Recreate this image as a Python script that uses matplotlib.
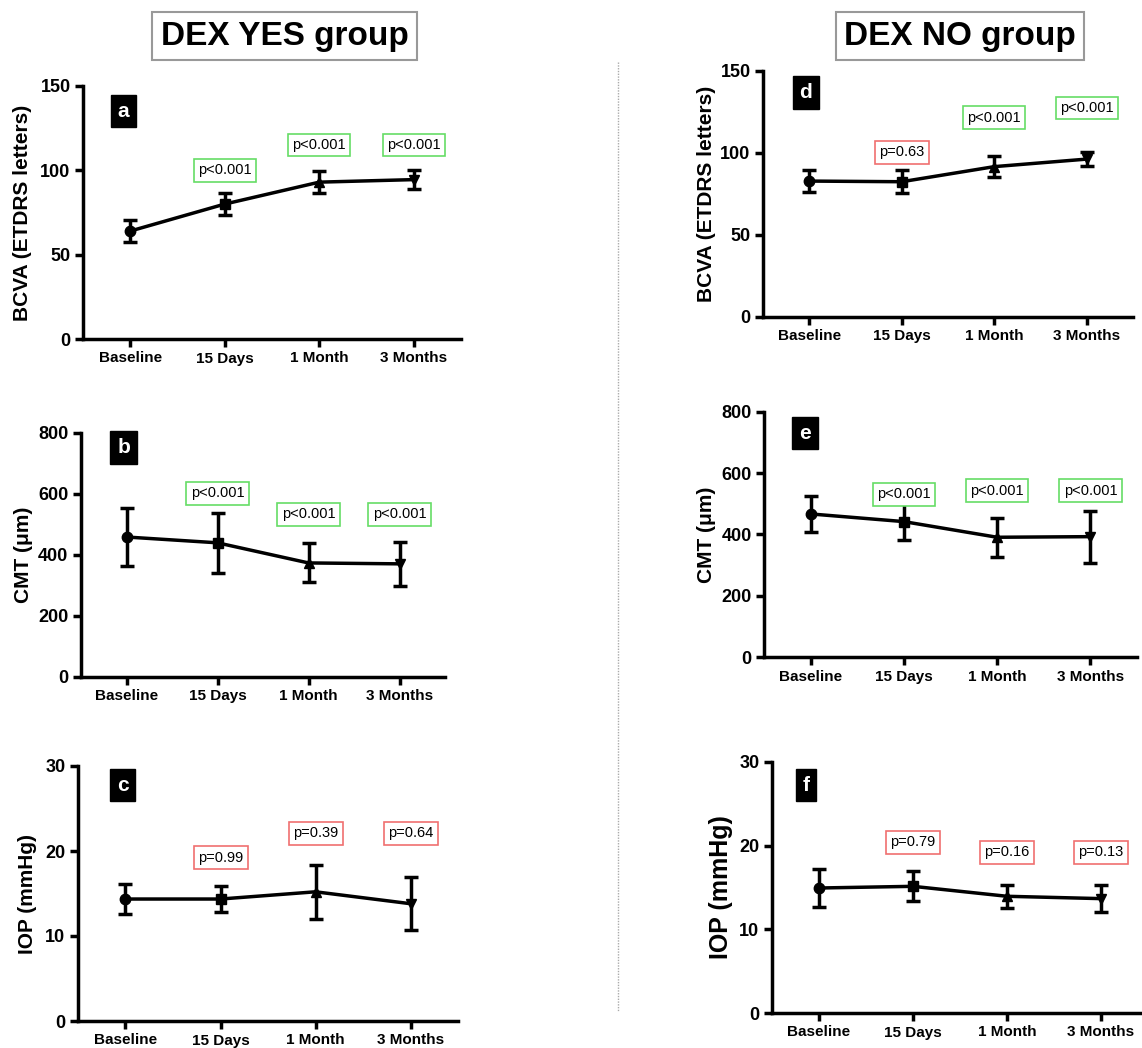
import matplotlib
matplotlib.use('Agg')
import matplotlib.pyplot as plt
from matplotlib.lines import Line2D

plt.rcParams['font.family'] = ['Liberation Sans', 'DejaVu Sans']

# data (mean and SD at each visit)
timepoints = ['Baseline', '15 Days', '1 Month', '3 Months']
markers = ['o', 's', '^', 'v']

bcva_yes_mean = [64, 80, 93, 94.5]
bcva_yes_sd = [6.5, 6.7, 6.5, 5.7]
cmt_yes_mean = [458, 439, 373, 370]
cmt_yes_sd = [96, 98, 64, 71]
iop_yes_mean = [14.35, 14.35, 15.2, 13.8]
iop_yes_sd = [1.75, 1.5, 3.2, 3.1]

bcva_no_mean = [82.7, 82.3, 91.5, 96.1]
bcva_no_sd = [6.7, 6.9, 6.3, 4.2]
cmt_no_mean = [467, 442, 391, 393]
cmt_no_sd = [59, 61, 63, 85]
iop_no_mean = [14.94, 15.14, 13.95, 13.67]
iop_no_sd = [2.25, 1.8, 1.35, 1.6]

# p-values vs baseline (label, y position of box)
p_a = ['p<0.001', 'p<0.001', 'p<0.001']
p_a_y = [100, 115, 115]
p_b = ['p<0.001', 'p<0.001', 'p<0.001']
p_b_y = [601, 533, 533]
p_c = ['p=0.99', 'p=0.39', 'p=0.64']
p_c_y = [19.2, 22.1, 22.1]
p_d = ['p=0.63', 'p<0.001', 'p<0.001']
p_d_y = [100.2, 121.3, 127.2]
p_e = ['p<0.001', 'p<0.001', 'p<0.001']
p_e_y = [531, 543, 543]
p_f = ['p=0.79', 'p=0.16', 'p=0.13']
p_f_y = [20.4, 19.2, 19.2]

W, H = 1142, 1048
fig = plt.figure(figsize=(W / 100, H / 100), dpi=100)


def box(left, right, top, bottom):
    return [left / W, 1 - bottom / H, (right - left) / W, (bottom - top) / H]


def panel(rect, mean, sd, yticks, ylabel, letter, letter_pos, pvals, pys,
          ylab_x, ylab_size=15):
    ax = fig.add_axes(rect)
    x = list(range(len(timepoints)))
    ax.plot(x, mean, color='black', lw=2.5, zorder=2)
    for i in x:
        ax.errorbar(i, mean[i], yerr=sd[i], fmt=markers[i], color='black',
                    ms=7.5, elinewidth=2.5, capsize=5, capthick=2.5, zorder=3)
    ax.set_xlim(-0.5, 3.5)
    ax.set_ylim(0, yticks[-1])
    ax.set_xticks(x)
    ax.set_xticklabels(timepoints, fontsize=11, fontweight='bold')
    ax.set_yticks(yticks)
    ax.set_yticklabels([str(t) for t in yticks], fontsize=13, fontweight='bold')
    for s in ['top', 'right']:
        ax.spines[s].set_visible(False)
    for s in ['left', 'bottom']:
        ax.spines[s].set_linewidth(2.5)
    ax.tick_params(width=2.5, length=6, pad=3)
    ax.set_ylabel(ylabel, fontsize=ylab_size, fontweight='bold')
    ax.yaxis.set_label_coords(ylab_x, 0.5)
    ax.text(letter_pos[0], letter_pos[1], letter, transform=ax.transAxes,
            ha='center', va='center', color='white', fontsize=15,
            fontweight='bold',
            bbox=dict(boxstyle='square,pad=0.32', fc='black', ec='black'))
    for i, (p, py) in enumerate(zip(pvals, pys)):
        ec = '#66dd66' if p == 'p<0.001' else '#f07070'
        ax.text(i + 1, py, p, ha='center', va='center', fontsize=10.5,
                bbox=dict(boxstyle='square,pad=0.3', fc='white', ec=ec, lw=1.2),
                zorder=4)
    return ax


panel(box(83, 461, 86, 339), bcva_yes_mean, bcva_yes_sd, [0, 50, 100, 150],
      'BCVA (ETDRS letters)', 'a', (0.106, 0.90), p_a, p_a_y, -0.135)
panel(box(81, 445, 432.7, 676.7), cmt_yes_mean, cmt_yes_sd,
      [0, 200, 400, 600, 800], 'CMT (μm)', 'b', (0.117, 0.94),
      p_b, p_b_y, -0.132)
panel(box(78, 458, 766, 1021), iop_yes_mean, iop_yes_sd, [0, 10, 20, 30],
      'IOP (mmHg)', 'c', (0.118, 0.925), p_c, p_c_y, -0.108)

panel(box(763, 1133, 70.7, 316.7), bcva_no_mean, bcva_no_sd, [0, 50, 100, 150],
      'BCVA (ETDRS letters)', 'd', (0.115, 0.911), p_d, p_d_y, -0.127)
panel(box(764, 1137, 411.7, 657.3), cmt_no_mean, cmt_no_sd,
      [0, 200, 400, 600, 800], 'CMT (μm)', 'e', (0.11, 0.913),
      p_e, p_e_y, -0.129)
panel(box(772, 1148, 762, 1013), iop_no_mean, iop_no_sd, [0, 10, 20, 30],
      'IOP (mmHg)', 'f', (0.09, 0.908), p_f, p_f_y, -0.105, ylab_size=18)

# group titles
for label, cx in [('DEX YES group', 284.5), ('DEX NO group', 960)]:
    fig.text(cx / W, 1 - 36 / H, label, ha='center', va='center',
             fontsize=24, fontweight='bold',
             bbox=dict(boxstyle='square,pad=0.25', fc='white', ec='#999999',
                       lw=1.5))

# dotted separator
fig.add_artist(Line2D([617.5 / W, 617.5 / W], [1 - 62 / H, 1 - 1012 / H],
                      color='#aaaaaa', lw=1, ls=(0, (1, 1))))

fig.savefig('out.png', dpi=100)
